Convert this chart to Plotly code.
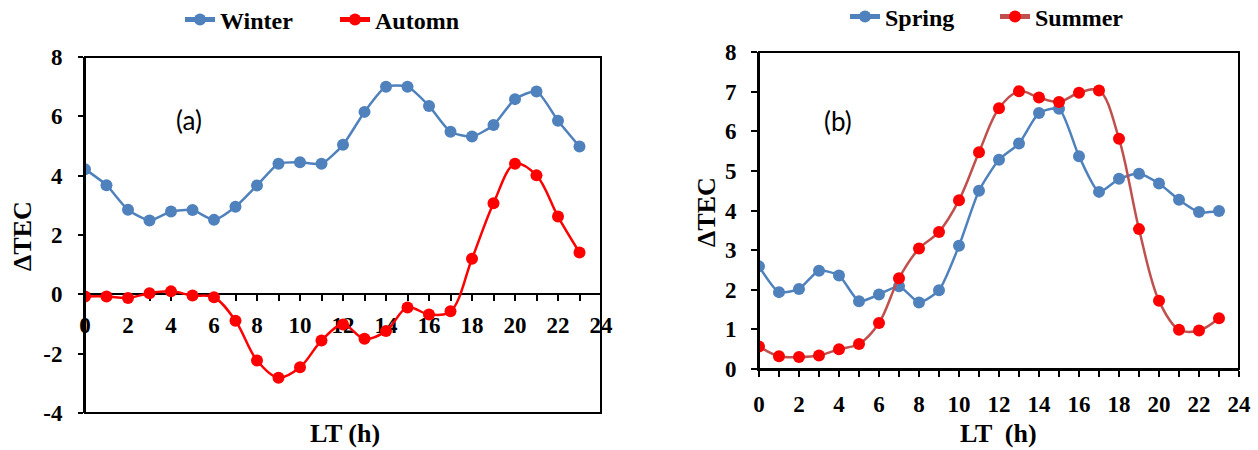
import plotly.graph_objects as go

# Local time (hours)
hours = list(range(24))

# Panel (a): winter / autumn ΔTEC
winter = [4.22, 3.68, 2.85, 2.49, 2.79, 2.84, 2.51, 2.95, 3.67, 4.40, 4.45, 4.40,
          5.04, 6.15, 7.00, 7.00, 6.35, 5.48, 5.32, 5.71, 6.58, 6.84, 5.85, 4.98]
autumn = [-0.07, -0.07, -0.12, 0.04, 0.10, -0.04, -0.10, -0.89, -2.23, -2.81, -2.46, -1.56,
          -1.02, -1.50, -1.24, -0.44, -0.68, -0.57, 1.20, 3.07, 4.40, 4.01, 2.62, 1.41]

# Panel (b): spring / summer ΔTEC
spring = [2.59, 1.94, 2.02, 2.48, 2.36, 1.71, 1.88, 2.09, 1.68, 1.99, 3.11, 4.50,
          5.28, 5.69, 6.46, 6.57, 5.37, 4.47, 4.80, 4.93, 4.68, 4.27, 3.96, 3.99]
summer = [0.57, 0.32, 0.30, 0.34, 0.50, 0.63, 1.16, 2.29, 3.04, 3.46, 4.26, 5.47,
          6.58, 7.01, 6.85, 6.74, 6.97, 7.03, 5.81, 3.53, 1.72, 0.99, 0.97, 1.28]

# Tick labels
x_ticks = [0, 2, 4, 6, 8, 10, 12, 14, 16, 18, 20, 22, 24]
x_ticktext = ["0", "2", "4", "6", "8", "10", "12", "14", "16", "18", "20", "22", "24"]
ya_ticks = [-4, -2, 0, 2, 4, 6, 8]
ya_ticktext = ["-4", "-2", "0", "2", "4", "6", "8"]
yb_ticks = [0, 1, 2, 3, 4, 5, 6, 7, 8]
yb_ticktext = ["0", "1", "2", "3", "4", "5", "6", "7", "8"]

BLUE = "#4F81BD"
RED = "#FF0000"
BROWN_RED = "#C0504D"
SERIF = "Liberation Serif"

W, H = 1258, 450


def px_x(p):
    return p / W


def px_y(p):
    return 1 - p / H


fig = go.Figure()


def add_series(x, y, name, line_color, marker_color, xa, ya, legend, smoothing):
    fig.add_trace(go.Scatter(
        x=x, y=y, name=name, mode="lines+markers",
        line=dict(color=line_color, width=2.5, shape="spline", smoothing=smoothing),
        marker=dict(color=marker_color, size=12),
        xaxis=xa, yaxis=ya, legend=legend,
    ))


add_series(hours, winter, "Winter", BLUE, BLUE, "x", "y", "legend", 0.6)
add_series(hours, autumn, "Automn", RED, RED, "x", "y", "legend2", 1.0)
add_series(hours, spring, "Spring", BLUE, BLUE, "x2", "y2", "legend3", 0.6)
add_series(hours, summer, "Summer", BROWN_RED, RED, "x2", "y2", "legend4", 1.0)

tick_font = dict(family=SERIF, size=23, color="black", weight="bold")
title_font = dict(family=SERIF, size=26, color="black", weight="bold")
legend_font = dict(family=SERIF, size=24, color="black", weight="bold")

# Panel geometry (pixels)
a_left, a_right, a_top, a_bottom = 85, 601, 57, 413
b_left, b_right, b_top, b_bottom = 759, 1239, 52, 369

ya_dom = [px_y(a_bottom), px_y(a_top)]
zero_pos = ya_dom[0] + (ya_dom[1] - ya_dom[0]) * (0 - (-4)) / (8 - (-4))

common_x = dict(
    range=[0, 24], tickvals=x_ticks, ticktext=x_ticktext, tickfont=tick_font,
    ticks="outside", ticklen=6, tickwidth=1.5, tickcolor="black",
    minor=dict(dtick=1, tick0=0, ticks="outside", ticklen=6, tickwidth=1.5, tickcolor="black"),
    showline=True, linecolor="black", linewidth=2, showgrid=False, zeroline=False,
    layer="below traces", fixedrange=True,
)

fig.update_layout(
    width=W, height=H,
    margin=dict(l=0, r=0, t=0, b=0, autoexpand=False),
    paper_bgcolor="white", plot_bgcolor="white",
    xaxis=dict(common_x, domain=[px_x(a_left), px_x(a_right)], anchor="free",
               position=zero_pos, ticklabelstandoff=4),
    yaxis=dict(domain=ya_dom, range=[-4, 8], tickvals=ya_ticks, ticktext=ya_ticktext,
               tickfont=tick_font, ticks="outside", ticklen=5, tickwidth=1.5,
               tickcolor="black", showline=True, linecolor="black", linewidth=2,
               showgrid=False, zeroline=False, anchor="x", ticklabelstandoff=11,
               fixedrange=True),
    xaxis2=dict(common_x, domain=[px_x(b_left), px_x(b_right)], anchor="y2",
                ticklabelstandoff=7),
    yaxis2=dict(domain=[px_y(b_bottom), px_y(b_top)], range=[0, 8], tickvals=yb_ticks,
                ticktext=yb_ticktext, tickfont=tick_font, ticks="outside", ticklen=6,
                tickwidth=1.5, tickcolor="black", showline=True, linecolor="black",
                linewidth=2, showgrid=False, zeroline=False, anchor="x2",
                ticklabelstandoff=10, fixedrange=True),
    showlegend=True,
)

# One legend per entry, laid out in a row above each panel
legend_spots = {
    "legend": (180, 20),
    "legend2": (335, 20),
    "legend3": (845, 17),
    "legend4": (995, 17),
}
for key, (lx, ly) in legend_spots.items():
    fig.update_layout({key: dict(
        x=px_x(lx), y=px_y(ly), xanchor="left", yanchor="middle",
        orientation="h", font=legend_font, bgcolor="rgba(0,0,0,0)",
        borderwidth=0, itemsizing="constant",
    )})

# Plot frames
for xa, ya in (("x", "y"), ("x2", "y2")):
    fig.add_shape(type="rect", xref=f"{xa} domain", yref=f"{ya} domain",
                  x0=0, x1=1, y0=0, y1=1, line=dict(color="black", width=2),
                  fillcolor="rgba(0,0,0,0)", layer="above")

# Axis titles and panel labels
annotations = [
    dict(text="LT (h)", x=px_x(345), y=px_y(433), font=title_font),
    dict(text="LT  (h)", x=px_x(999), y=px_y(433), font=title_font),
    dict(text="ΔTEC", x=px_x(22), y=px_y(236), font=title_font, textangle=-90),
    dict(text="ΔTEC", x=px_x(707), y=px_y(212), font=title_font, textangle=-90),
    dict(text="(a)", x=px_x(189), y=px_y(120), font=dict(family="Lato", size=26, color="black")),
    dict(text="(b)", x=px_x(838), y=px_y(121), font=dict(family="Lato", size=26, color="black")),
]
for a in annotations:
    fig.add_annotation(xref="paper", yref="paper", xanchor="center", yanchor="middle",
                       showarrow=False, **a)

fig.write_html("out.html")
